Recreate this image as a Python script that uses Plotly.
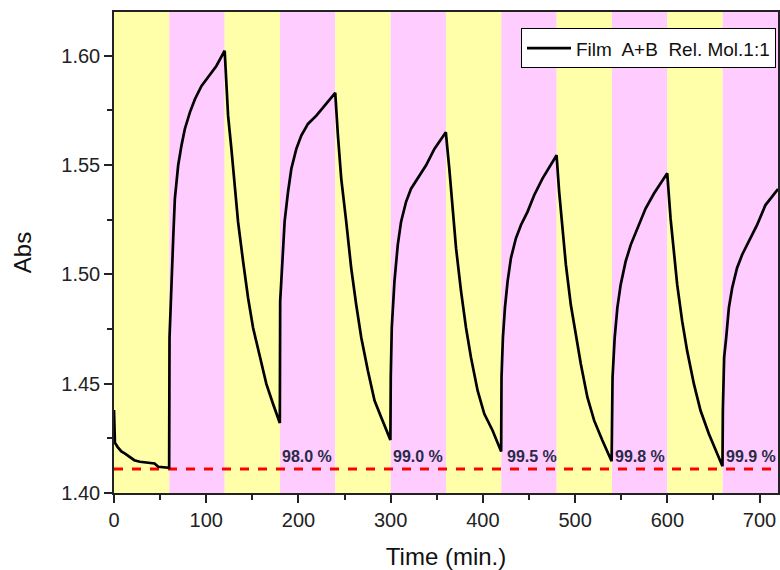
import plotly.graph_objects as go

# ---- data ----
time_min = [
    0, 1, 4, 8, 12, 17, 22, 28, 35, 44, 48, 55, 59.8,
    60.2, 62.4, 64.2, 66.0, 69.6, 73.2, 76.8, 82.3, 87.7, 94.9, 103.9, 111.0, 120.0,
    123.7, 127.3, 131.0, 134.5, 140.0, 145.4, 150.8, 158.0, 165.2, 172.4, 179.8,
    180.2, 182.2, 185.0, 188.7, 192.3, 197.7, 203.1, 210.3, 219.4, 228.4, 239.9,
    242.8, 246.4, 251.8, 257.2, 262.6, 268.1, 275.3, 282.5, 289.7, 299.7,
    300.1, 301.2, 304.1, 307.7, 311.3, 316.7, 322.1, 329.3, 338.4, 347.4, 359.8,
    363.6, 367.2, 370.9, 376.3, 381.7, 387.1, 394.3, 401.5, 410.5, 419.8,
    420.2, 421.7, 423.9, 426.8, 430.4, 435.8, 441.3, 448.4, 455.6, 464.6, 473.6, 479.9,
    482.7, 486.3, 490.0, 495.3, 500.8, 506.2, 513.3, 520.6, 529.5, 539.6,
    540.0, 540.6, 542.9, 545.8, 549.4, 554.8, 560.3, 567.4, 576.4, 585.5, 599.9,
    603.5, 607.1, 610.7, 616.1, 621.5, 628.8, 636.0, 645.0, 654.0, 659.8,
    660.2, 661.6, 663.8, 666.7, 670.3, 675.6, 681.1, 688.3, 697.3, 706.4, 720.0,
]
abs_values = [
    1.438, 1.423, 1.421, 1.419, 1.418, 1.4165, 1.415, 1.4143, 1.4138, 1.4135, 1.412, 1.4118, 1.4115,
    1.471, 1.501, 1.5165, 1.5347, 1.5499, 1.559, 1.5665, 1.5741, 1.5801, 1.5862, 1.5915, 1.5953, 1.6023,
    1.5726, 1.5574, 1.5392, 1.5241, 1.5059, 1.4892, 1.4756, 1.462, 1.4499, 1.4408, 1.4320,
    1.4877, 1.5059, 1.5241, 1.5377, 1.5483, 1.5574, 1.5635, 1.5688, 1.5726, 1.5772, 1.5830,
    1.5635, 1.5438, 1.5241, 1.5029, 1.4862, 1.4711, 1.4559, 1.4423, 1.4347, 1.4243,
    1.4529, 1.4756, 1.4968, 1.5135, 1.5241, 1.5332, 1.5392, 1.5438, 1.5499, 1.5574, 1.5650,
    1.5483, 1.5301, 1.5120, 1.4923, 1.4756, 1.4620, 1.4468, 1.4362, 1.4286, 1.4190,
    1.4529, 1.4710, 1.4847, 1.4968, 1.5074, 1.5165, 1.5226, 1.5286, 1.5362, 1.5438, 1.5499, 1.5545,
    1.5377, 1.5195, 1.5044, 1.4862, 1.4726, 1.4590, 1.4438, 1.4332, 1.4241, 1.4145,
    1.4302, 1.4529, 1.4710, 1.4847, 1.4953, 1.5059, 1.5135, 1.5210, 1.5301, 1.5370, 1.5462,
    1.5256, 1.5105, 1.4953, 1.4786, 1.4650, 1.4499, 1.4377, 1.4271, 1.4180, 1.4122,
    1.4377, 1.4620, 1.4710, 1.4847, 1.4938, 1.5029, 1.5090, 1.5150, 1.5226, 1.5317, 1.5390,
]
band_edges = [0, 60, 120, 180, 240, 300, 360, 420, 480, 540, 600, 660, 720]
baseline_abs = 1.411
label_x = [182, 303, 426, 543, 664]
label_text = ["98.0 %", "99.0 %", "99.5 %", "99.8 %", "99.9 %"]
label_y = 1.4165
series_name = "Film  A+B  Rel. Mol.1:1"

YELLOW = "#FFFFAA"
PINK = "#FFCCFF"
FONT = "Liberation Sans, Arial"

fig = go.Figure()

shapes = []
for i in range(len(band_edges) - 1):
    shapes.append(dict(
        type="rect", xref="x", yref="paper",
        x0=band_edges[i], x1=band_edges[i + 1], y0=0, y1=1,
        fillcolor=YELLOW if i % 2 == 0 else PINK,
        line=dict(width=0), layer="below",
    ))

fig.add_trace(go.Scatter(
    x=[band_edges[0], band_edges[-1]], y=[baseline_abs, baseline_abs],
    mode="lines", line=dict(color="#FF0000", width=3, dash="dash"),
    showlegend=False, hoverinfo="skip",
))

fig.add_trace(go.Scatter(
    x=time_min, y=abs_values, mode="lines", name=series_name,
    line=dict(color="black", width=2.7),
))

for xv, t in zip(label_x, label_text):
    fig.add_annotation(
        x=xv, y=label_y, text="<b>" + t + "</b>", showarrow=False,
        xanchor="left", yanchor="middle", xshift=-2,
        font=dict(family=FONT, size=16, color="#2a2a48"),
    )

axis_font = dict(family=FONT, size=20, color="#222222")

fig.update_layout(
    width=780, height=570,
    margin=dict(l=114, r=0, t=12, b=77),
    paper_bgcolor="white", plot_bgcolor="white",
    shapes=shapes,
    showlegend=True,
    legend=dict(
        x=0.997, y=0.966, xanchor="right", yanchor="top",
        bgcolor="white", bordercolor="black", borderwidth=1,
        font=dict(family=FONT, size=19, color="#111111"),
        tracegroupgap=0, itemwidth=44,
    ),
    xaxis=dict(
        range=[0, 720], tickmode="array",
        tickvals=[0, 100, 200, 300, 400, 500, 600, 700],
        ticks="outside", ticklen=8, tickwidth=1.5, tickcolor="#222",
        minor=dict(tickvals=[50, 150, 250, 350, 450, 550, 650], ticks="outside",
                   ticklen=5, tickwidth=1.5, tickcolor="#222"),
        showline=True, linecolor="#222", linewidth=1.5, mirror=True,
        showgrid=False, zeroline=False,
        tickfont=axis_font,
        title=dict(text="Time (min.)", font=dict(family=FONT, size=24, color="#111111"), standoff=19),
    ),
    yaxis=dict(
        range=[1.40, 1.62], tickmode="array",
        tickvals=[1.40, 1.45, 1.50, 1.55, 1.60],
        ticktext=["1.40", "1.45", "1.50", "1.55", "1.60"],
        ticks="outside", ticklen=8, tickwidth=1.5, tickcolor="#222",
        minor=dict(tickvals=[1.425, 1.475, 1.525, 1.575], ticks="outside",
                   ticklen=5, tickwidth=1.5, tickcolor="#222"),
        showline=True, linecolor="#222", linewidth=1.5, mirror=True,
        showgrid=False, zeroline=False,
        tickfont=axis_font,
        title=dict(text="Abs", font=dict(family=FONT, size=24, color="#111111"), standoff=23),
    ),
)

fig.write_html(
    "out.html",
    config={"displayModeBar": False},
    post_script="document.body.style.margin='0';document.body.style.overflow='hidden';",
)
